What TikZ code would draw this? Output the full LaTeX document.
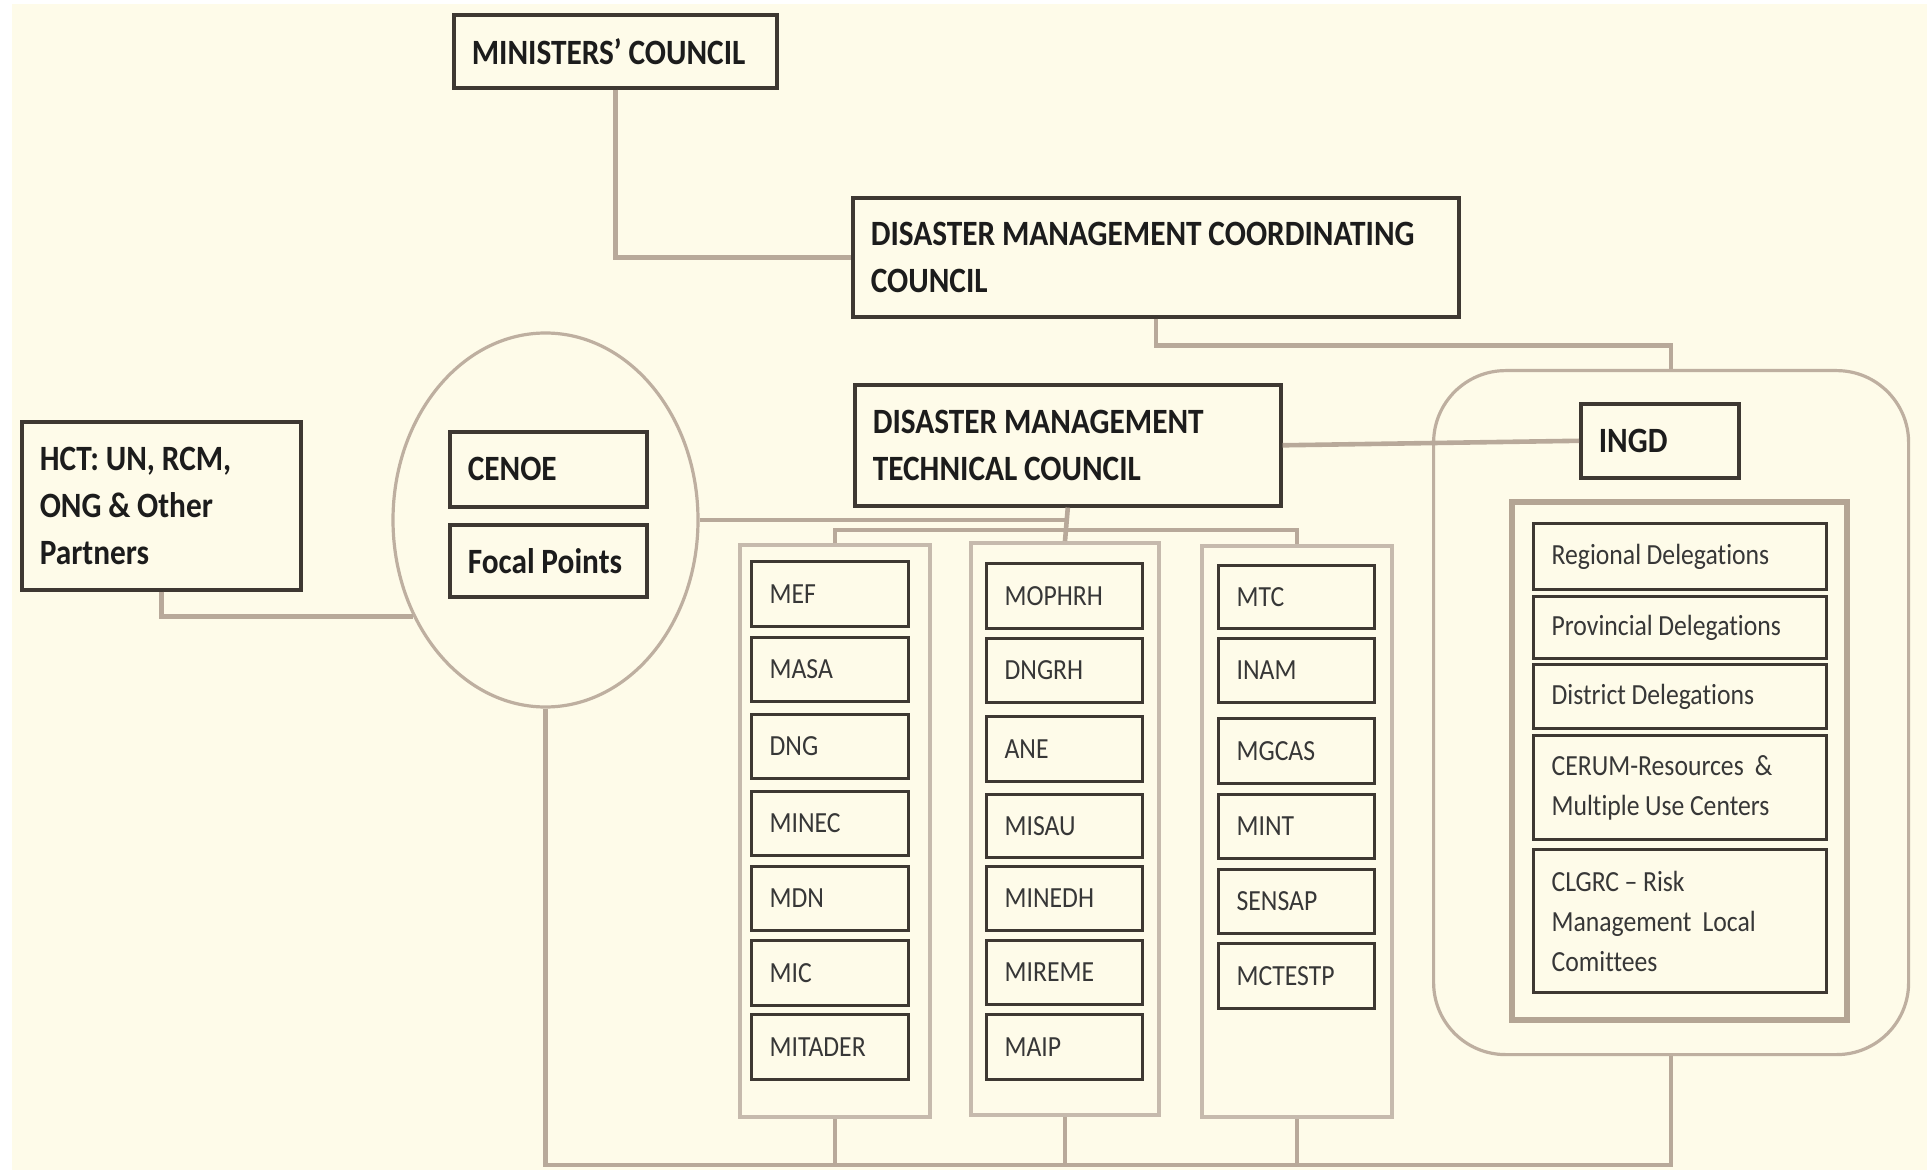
\documentclass[tikz,border=0pt]{standalone}
\usepackage{fontspec}
\setmainfont{Carlito}[FakeStretch=0.88, Ligatures=NoCommon]
\usetikzlibrary{shapes.geometric}
\definecolor{cream}{RGB}{254,251,233}
\definecolor{boxline}{RGB}{62,56,50}
\definecolor{conn}{RGB}{184,169,154}
\definecolor{softline}{RGB}{190,175,160}
\definecolor{colline}{RGB}{198,186,173}
\definecolor{delline}{RGB}{180,165,148}
\definecolor{txtdark}{RGB}{28,28,28}
\definecolor{txtgrey}{RGB}{55,55,55}
\newcommand{\tightsp}{\spaceskip=0.19em plus 0.05em\relax}
\newcommand{\mkbox}[7]{%
  \pgfmathsetmacro{\mkw}{(#5-#3)*0.5}%
  \pgfmathsetmacro{\mkh}{(#6-#4)*0.5}%
  \pgfmathsetmacro{\mktw}{(#5-#3)*0.5-18}%
  \node[#1, anchor=north west, minimum width=\mkw pt, minimum height=\mkh pt,
        text width=\mktw pt, inner xsep=9pt, inner ysep=0pt] (#2) at (#3,#4) {\tightsp #7};%
}
\begin{document}
\begin{tikzpicture}[x=0.5pt,y=-0.5pt,
  bigbox/.style={draw=boxline, line width=1.8pt, font=\fontsize{17.8}{23.5}\selectfont\bfseries, text=txtdark, align=left},
  minbox/.style={draw=boxline, line width=1.6pt, font=\fontsize{14.6}{20}\selectfont, text=txtgrey, align=left},
  colbox/.style={draw=colline, line width=2pt},
  delwrap/.style={draw=delline, line width=3pt},
  roundwrap/.style={draw=softline, line width=1.6pt, rounded corners=36pt},
  link/.style={draw=conn, line width=2.3pt},
]
\useasboundingbox (0,0) rectangle (1927,1170);
\fill[white] (0,0) rectangle (1927,1170);
\fill[cream] (12,4) rectangle (1927,1170);

% containers
\mkbox{colbox}{col1}{738}{543}{928}{1115}{}
\mkbox{colbox}{col2}{969}{541}{1157}{1113}{}
\mkbox{colbox}{col3}{1200}{544}{1390}{1115}{}
\mkbox{roundwrap}{wrap}{1432}{369}{1907}{1053}{}
\mkbox{delwrap}{delw}{1509}{499}{1844}{1017}{}
\node[ellipse, draw=softline, line width=1.6pt, minimum width=152.5pt, minimum height=187pt, inner sep=0pt] (cenoe) at (545.5,520) {};

% main boxes
\mkbox{bigbox}{mincouncil}{452}{13}{775}{86}{\mbox{MINISTERS’ COUNCIL}}
\mkbox{bigbox}{dmcc}{851}{196}{1457}{315}{\mbox{DISASTER MANAGEMENT COORDINATING}\\COUNCIL}
\mkbox{bigbox}{dmtc}{853}{383}{1279}{504}{\mbox{DISASTER MANAGEMENT}\\\mbox{TECHNICAL COUNCIL}}
\mkbox{bigbox}{hct}{20}{420}{299}{588}{\mbox{HCT: UN, RCM,}\\\mbox{ONG \& Other}\\Partners}
\mkbox{bigbox}{cenoebox}{448}{430}{645}{505}{CENOE}
\mkbox{bigbox}{focal}{448}{523}{645}{595}{\mbox{Focal Points}}
\mkbox{bigbox}{ingd}{1579}{402}{1737}{476}{INGD}

% column 1
\mkbox{minbox}{mef}{750}{560}{907}{625}{MEF}
\mkbox{minbox}{masa}{750}{636}{907}{700}{MASA}
\mkbox{minbox}{dng}{750}{713}{907}{777}{DNG}
\mkbox{minbox}{minec}{750}{790}{907}{854}{MINEC}
\mkbox{minbox}{mdn}{750}{865}{907}{929}{MDN}
\mkbox{minbox}{mic}{750}{939}{907}{1004}{MIC}
\mkbox{minbox}{mitader}{750}{1013}{907}{1078}{MITADER}
% column 2
\mkbox{minbox}{mophrh}{985}{562}{1141}{627}{MOPHRH}
\mkbox{minbox}{dngrh}{985}{637}{1141}{701}{DNGRH}
\mkbox{minbox}{ane}{985}{715}{1141}{780}{ANE}
\mkbox{minbox}{misau}{985}{793}{1141}{856}{MISAU}
\mkbox{minbox}{minedh}{985}{865}{1141}{929}{MINEDH}
\mkbox{minbox}{mireme}{985}{939}{1141}{1003}{MIREME}
\mkbox{minbox}{maip}{985}{1013}{1141}{1078}{MAIP}
% column 3
\mkbox{minbox}{mtc}{1217}{564}{1373}{627}{MTC}
\mkbox{minbox}{inam}{1217}{637}{1373}{701}{INAM}
\mkbox{minbox}{mgcas}{1217}{717}{1373}{782}{MGCAS}
\mkbox{minbox}{mint}{1217}{793}{1373}{857}{MINT}
\mkbox{minbox}{sensap}{1217}{868}{1373}{932}{SENSAP}
\mkbox{minbox}{mctestp}{1217}{942}{1373}{1007}{MCTESTP}

% delegations
\mkbox{minbox}{regional}{1532}{522}{1825}{588}{\mbox{Regional Delegations}}
\mkbox{minbox}{provincial}{1532}{595}{1825}{657}{\mbox{Provincial Delegations}}
\mkbox{minbox}{district}{1532}{663}{1825}{727}{\mbox{District Delegations}}
\mkbox{minbox}{cerum}{1532}{734}{1825}{838}{\mbox{CERUM-Resources \ \&}\\\mbox{Multiple Use Centers}}
\mkbox{minbox}{clgrc}{1532}{848}{1825}{991}{CLGRC – Risk\\\mbox{Management \ Local}\\Comittees}

% connectors
\coordinate (bot) at (0,1165);
\draw[link] (mincouncil.south) |- (dmcc.west);
\draw[link] (dmcc.south) -- ++(0,27) -| (wrap.north);
\draw[link] (dmtc.east) -- (ingd.west);
\draw[link] (hct.south) |- (cenoe.216);
\draw[link] (cenoe.east) -- (cenoe.east -| dmtc.south);
\draw[link] (dmtc.south) -- (col2.north);
\draw[link] (col1.north) -- ++(0,-13) -| (col3.north);
\draw[link] (cenoe.south) -- (cenoe.south |- bot) -| (wrap.south);
\draw[link] (col1.south) -- (col1.south |- bot);
\draw[link] (col2.south) -- (col2.south |- bot);
\draw[link] (col3.south) -- (col3.south |- bot);
\end{tikzpicture}
\end{document}
